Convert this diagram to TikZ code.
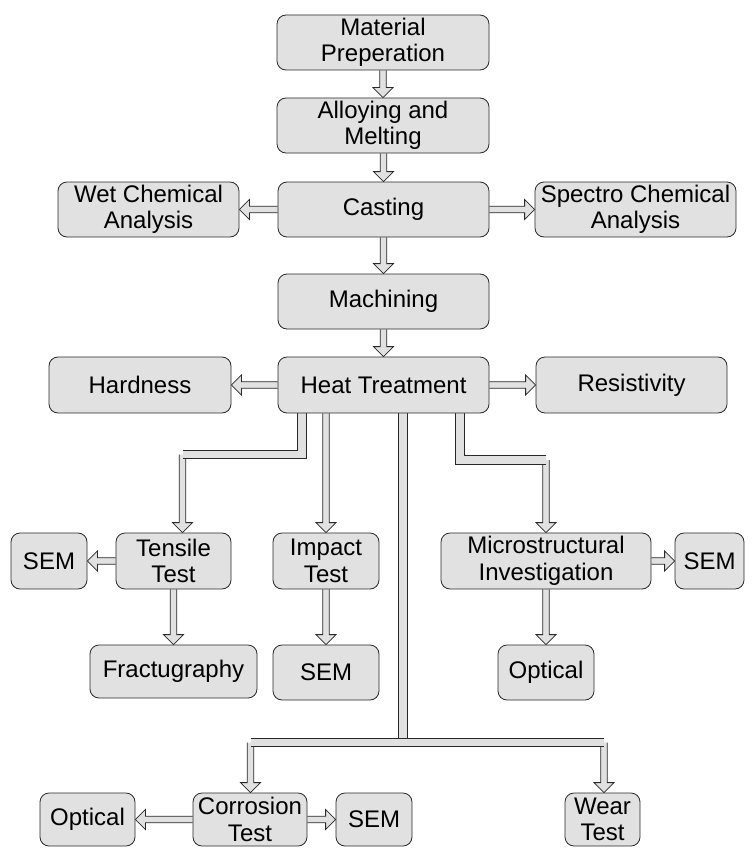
\documentclass[tikz,border=0pt]{standalone}
\usepackage{fontspec}
\setmainfont{Liberation Sans}
\usetikzlibrary{calc,backgrounds}
\definecolor{boxgray}{RGB}{225,225,225}
\definecolor{linec}{RGB}{40,40,40}

\tikzset{
  box/.style={draw=linec, line width=0.8pt, fill=boxgray, rounded corners=9pt,
    align=center, inner sep=0pt, font=\fontsize{24}{26.5}\selectfont},
  arr/.style={draw=linec, fill=boxgray, line width=0.8pt, line join=miter},
  wide/.style={draw=linec, line width=0.8pt, double=boxgray, double distance=7.8pt, line join=miter},
}
% flow box: name, left, right, top, bottom, text
\newcommand\flowbox[6]{\node[box, minimum width={(#3-#2)*1pt}, minimum height={(#5-#4)*1pt}]
  (#1) at ({(#2+#3)/2},{(#4+#5)/2}) {#6};}
% block arrows: from #1 to tip #2
\newcommand\arrD[2]{\path[arr] let \p1=#1, \p2=#2 in
  (\x2-3.3pt,\y1) -- (\x2-3.3pt,\y2+10pt) -- (\x2-10pt,\y2+10pt) -- (\x2,\y2)
  -- (\x2+10pt,\y2+10pt) -- (\x2+3.3pt,\y2+10pt) -- (\x2+3.3pt,\y1);}
\newcommand\arrR[2]{\path[arr] let \p1=#1, \p2=#2 in
  (\x1,\y1+3.3pt) -- (\x2-10pt,\y1+3.3pt) -- (\x2-10pt,\y1+10pt) -- (\x2,\y1)
  -- (\x2-10pt,\y1-10pt) -- (\x2-10pt,\y1-3.3pt) -- (\x1,\y1-3.3pt);}
\newcommand\arrL[2]{\path[arr] let \p1=#1, \p2=#2 in
  (\x1,\y1+3.3pt) -- (\x2+10pt,\y1+3.3pt) -- (\x2+10pt,\y1+10pt) -- (\x2,\y1)
  -- (\x2+10pt,\y1-10pt) -- (\x2+10pt,\y1-3.3pt) -- (\x1,\y1-3.3pt);}

\begin{document}
\begin{tikzpicture}[x=1pt,y=-1pt]
\useasboundingbox (0,0) rectangle (752,848);

\flowbox{mat}{277}{489}{15}{70}{Material\\Preperation}
\flowbox{alloy}{277}{489}{98}{153}{Alloying and\\Melting}
\flowbox{cast}{278}{489}{182}{237}{Casting}
\flowbox{wet}{58}{239}{182}{237}{Wet Chemical\\Analysis}
\flowbox{spec}{535}{736}{182}{237}{Spectro Chemical\\Analysis}
\flowbox{mach}{278}{489}{274}{329}{Machining}
\flowbox{heat}{278}{489}{357}{413}{Heat Treatment}
\flowbox{hard}{49}{231}{357}{413}{Hardness}
\flowbox{res}{536}{727}{357}{413}{Resistivity}
\flowbox{tens}{116}{231}{533}{589}{Tensile\\Test}
\flowbox{semA}{11}{87}{533}{589}{SEM}
\flowbox{frac}{90}{257}{645}{698}{Fractugraphy}
\flowbox{imp}{273}{379}{533}{589}{Impact\\Test}
\flowbox{semB}{273}{379}{645}{700}{SEM}
\flowbox{micro}{441}{651}{533}{589}{Microstructural\\Investigation}
\flowbox{semC}{675}{744}{533}{589}{SEM}
\flowbox{optA}{498}{594}{645}{700}{Optical}
\flowbox{corr}{193}{307}{793}{846}{Corrosion\\Test}
\flowbox{optB}{40}{135}{793}{846}{Optical}
\flowbox{semD}{336}{412}{793}{846}{SEM}
\flowbox{wear}{565}{640}{793}{846}{Wear\\Test}

\coordinate (tA) at (302,454.5);
\coordinate (tB) at (182.5,454.5);
\coordinate (mA) at (460,460);
\coordinate (mB) at (546,460);
\coordinate (lA) at (403,742.5);
\coordinate (bL) at (250.5,742.5);
\coordinate (bR) at (604,742.5);

\begin{scope}[on background layer]
  \arrD{(mat.south)}{(alloy.north)}
  \arrD{(alloy.south)}{(cast.north)}
  \arrD{(cast.south)}{(mach.north)}
  \arrD{(mach.south)}{(heat.north)}
  \arrL{(cast.west)}{(wet.east)}
  \arrR{(cast.east)}{(spec.west)}
  \arrL{(heat.west)}{(hard.east)}
  \arrR{(heat.east)}{(res.west)}
  % tensile branch
  \arrD{(tB)}{(tB |- tens.north)}
  \draw[wide] (heat.south -| tA) -- (tA) -- (tB);
  % impact branch
  \arrD{(heat.south -| imp)}{(imp.north)}
  % microstructural branch
  \arrD{(mB)}{(mB |- micro.north)}
  \draw[wide] (heat.south -| mA) -- (mA) -- (mB);
  % second level
  \arrL{(tens.west)}{(semA.east)}
  \arrD{(tens.south)}{(frac.north)}
  \arrD{(imp.south)}{(semB.north)}
  \arrR{(micro.east)}{(semC.west)}
  \arrD{(micro.south -| optA)}{(optA.north)}
  % long branch to bottom
  \arrD{(bL)}{(bL |- corr.north)}
  \arrD{(bR)}{(bR |- wear.north)}
  \draw[wide] (heat.south -| lA) -- (lA);
  \draw[wide] (bL) -- (bR);
  \arrL{(corr.west)}{(optB.east)}
  \arrR{(corr.east)}{(semD.west)}
\end{scope}
\end{tikzpicture}
\end{document}
